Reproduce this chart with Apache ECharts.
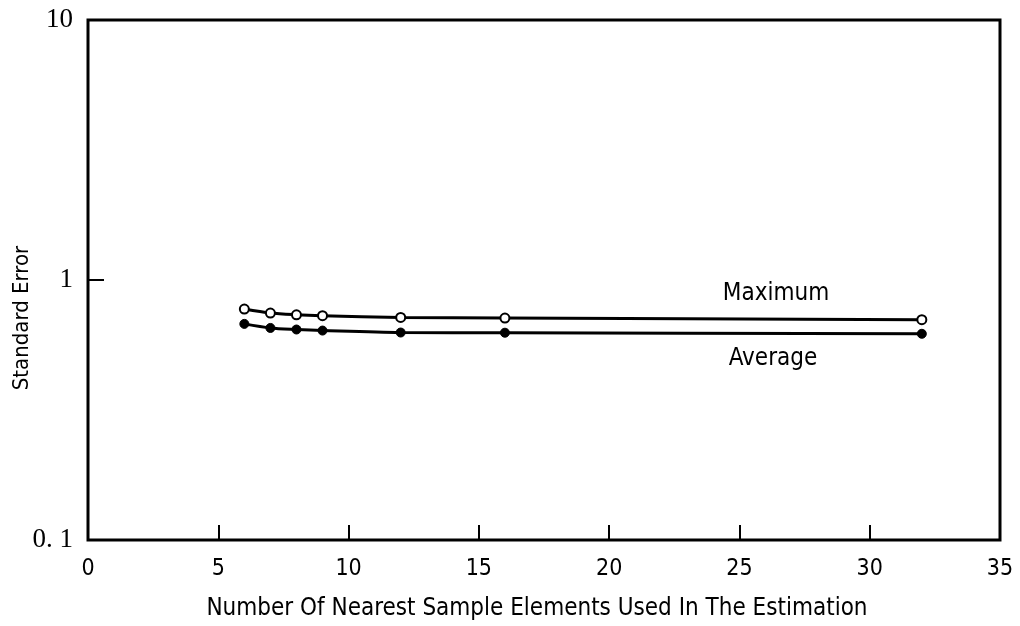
<!DOCTYPE html>
<html>
<head>
<meta charset="utf-8">
<script src="https://cdn.jsdelivr.net/npm/echarts@6/dist/echarts.min.js"></script>
<style>html,body{margin:0;padding:0;background:#fff;}#c{width:1020px;height:626px;}</style>
</head>
<body>
<div id="c"></div>
<script>
const xValues = [6, 7, 8, 9, 12, 16, 32];
const maximumValues = [0.773, 0.746, 0.735, 0.729, 0.718, 0.714, 0.704];
const averageValues = [0.678, 0.654, 0.645, 0.639, 0.628, 0.627, 0.621];
const xTicks = [0, 5, 10, 15, 20, 25, 30, 35];
const yTickLabels = {'0.1': '0. 1', '1': '1', '10': '10'};
const seriesNames = ['Maximum', 'Average'];
const xTitle = 'Number Of Nearest Sample Elements Used In The Estimation';
const yTitle = 'Standard Error';

const sans = '"DejaVu Sans Condensed", "Liberation Sans Narrow", sans-serif';
const serif = '"Liberation Serif", "DejaVu Serif", serif';

const chart = echarts.init(document.getElementById('c'), null, {renderer: 'canvas'});
const pair = arr => xValues.map((x, i) => [x, arr[i]]);

chart.setOption({
  animation: false,
  backgroundColor: '#fff',
  grid: {left: 88, right: 20, top: 20, bottom: 84, show: true, borderColor: '#000', borderWidth: 3, backgroundColor: 'transparent'},
  xAxis: {
    type: 'value', min: xTicks[0], max: xTicks[xTicks.length - 1], interval: 5,
    axisLine: {show: false},
    axisTick: {show: true, inside: true, length: 15, lineStyle: {color: '#000', width: 2}},
    splitLine: {show: false},
    axisLabel: {color: '#000', fontFamily: sans, fontSize: 23, margin: 18},
    name: xTitle, nameLocation: 'middle', nameGap: 57,
    nameTextStyle: {color: '#000', fontFamily: sans, fontSize: 24, padding: [0, 14, 0, 0]}
  },
  yAxis: {
    type: 'log', min: 0.1, max: 10, logBase: 10,
    axisLine: {show: false},
    axisTick: {show: true, inside: true, length: 16, lineStyle: {color: '#000', width: 2}},
    minorTick: {show: false},
    splitLine: {show: false},
    axisLabel: {color: '#000', fontFamily: serif, fontSize: 27, margin: 15,
      formatter: v => yTickLabels[String(+v.toPrecision(3))] || ''}
  },
  graphic: [
    {type: 'text', rotation: Math.PI / 2, x: 22, y: 318,
     style: {text: yTitle, fill: '#000', font: '22px ' + sans, textAlign: 'center', textVerticalAlign: 'middle'}},
    {type: 'text', x: 776, y: 294,
     style: {text: seriesNames[0], fill: '#000', font: '24px ' + sans, textAlign: 'center', textVerticalAlign: 'middle'}},
    {type: 'text', x: 773, y: 359,
     style: {text: seriesNames[1], fill: '#000', font: '24px ' + sans, textAlign: 'center', textVerticalAlign: 'middle'}}
  ],
  series: [
    {name: seriesNames[0], type: 'line', data: pair(maximumValues), smooth: 0.3,
     symbol: 'circle', symbolSize: 9,
     lineStyle: {color: '#000', width: 3},
     itemStyle: {color: '#fff', borderColor: '#000', borderWidth: 2}},
    {name: seriesNames[1], type: 'line', data: pair(averageValues), smooth: 0.3,
     symbol: 'circle', symbolSize: 9,
     lineStyle: {color: '#000', width: 3},
     itemStyle: {color: '#000', borderColor: '#000', borderWidth: 1}}
  ]
});
</script>
</body>
</html>
